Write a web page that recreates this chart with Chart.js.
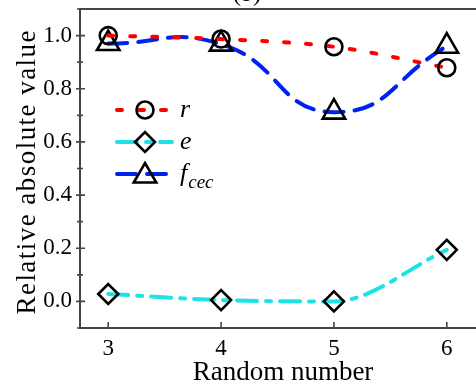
<!DOCTYPE html>
<html>
<head>
<meta charset="utf-8">
<script src="https://cdn.jsdelivr.net/npm/chart.js@4/dist/chart.umd.min.js"></script>
<style>
html,body{margin:0;padding:0;background:#fff;}
#wrap{width:476px;height:389px;}
</style>
</head>
<body>
<div id="wrap"><canvas id="c" width="476" height="389"></canvas></div>
<script>
// ---- data ----
const randomNumbers = [3, 4, 5, 6];
const rValues = [1.0, 0.987, 0.958, 0.879];
const eValues = [0.028, 0.005, 0.0, 0.194];
const fcecValues = [0.97, 0.968, 0.712, 0.96];
const xTickValues = [3, 4, 5, 6];
const yTickValues = [0.0, 0.2, 0.4, 0.6, 0.8, 1.0];
const yMinorTickValues = [-0.1, 0.1, 0.3, 0.5, 0.7, 0.9, 1.1];
const xTitle = 'Random number';
const yTitle = 'Relative absolute value';
const chartTitle = '(b)';

const SERIF = "'Liberation Serif', 'DejaVu Serif', serif";
Chart.defaults.font.family = SERIF;
Chart.defaults.font.size = 22;
Chart.defaults.color = '#000';
const RED = '#ff0000', CYAN = '#1ee2e6', BLUE = '#0022ee';
const rDash = [5, 17], eDash = [20, 9, 5, 9], fDash = [19, 11];

const pts = (ys) => randomNumbers.map((x, i) => ({x: x, y: ys[i]}));

function drawMarker(ctx, style, x, y, r) {
  ctx.save();
  ctx.setLineDash([]);
  ctx.strokeStyle = '#000';
  ctx.lineWidth = 2.6;
  ctx.beginPath();
  if (style === 'circle') {
    ctx.arc(x, y, r, 0, Math.PI * 2);
  } else if (style === 'rectRot') {
    ctx.moveTo(x - r, y); ctx.lineTo(x, y - r); ctx.lineTo(x + r, y); ctx.lineTo(x, y + r); ctx.closePath();
  } else if (style === 'triangle') {
    let a = 0;
    ctx.moveTo(x + Math.sin(a) * r, y - Math.cos(a) * r);
    a += Math.PI * 2 / 3;
    ctx.lineTo(x + Math.sin(a) * r, y - Math.cos(a) * r);
    a += Math.PI * 2 / 3;
    ctx.lineTo(x + Math.sin(a) * r, y - Math.cos(a) * r);
    ctx.closePath();
  }
  ctx.stroke();
  ctx.restore();
}

const framePlugin = {
  id: 'frame',
  beforeDatasetsDraw(chart) {
    const ctx = chart.ctx, a = chart.chartArea;
    const xs = chart.scales.x, ys = chart.scales.y;
    ctx.save();
    ctx.strokeStyle = '#444';
    ctx.lineWidth = 2;
    ctx.beginPath();
    ctx.moveTo(a.left, a.top); ctx.lineTo(a.right + 2, a.top);
    ctx.moveTo(a.left, a.top - 1); ctx.lineTo(a.left, a.bottom + 1);
    ctx.moveTo(a.left - 1, a.bottom); ctx.lineTo(a.right + 2, a.bottom);
    ctx.stroke();
    ctx.lineWidth = 1.6;
    ctx.beginPath();
    yTickValues.forEach(v => { const p = ys.getPixelForValue(v); ctx.moveTo(a.left - 4, p); ctx.lineTo(a.left + 5, p); });
    yMinorTickValues.forEach(v => { const p = ys.getPixelForValue(v); ctx.moveTo(a.left - 3, p); ctx.lineTo(a.left + 3, p); });
    xTickValues.forEach(v => { const p = xs.getPixelForValue(v); ctx.moveTo(p, a.bottom); ctx.lineTo(p, a.bottom - 6); });
    ctx.stroke();
    ctx.fillStyle = '#000';
    ctx.textBaseline = 'alphabetic';
    // title, mostly clipped at top
    ctx.font = '24px ' + SERIF;
    ctx.textAlign = 'center';
    ctx.fillText(chartTitle, 247, 1);
    // x axis title
    ctx.font = '27px ' + SERIF;
    ctx.fillText(xTitle, 283, 380);
    // y axis title (rotated, stretched to the reference length)
    ctx.save();
    ctx.translate(35, 172.5);
    ctx.rotate(-Math.PI / 2);
    ctx.font = '27px ' + SERIF;
    const natural = ctx.measureText(yTitle).width;
    const spacing = Math.max(0, (284 - natural) / (yTitle.length - 1));
    ctx.letterSpacing = spacing.toFixed(2) + 'px';
    const w = ctx.measureText(yTitle).width;
    ctx.textAlign = 'left';
    ctx.fillText(yTitle, -(w - spacing) / 2, 0);
    ctx.restore();
    ctx.restore();
  },
  afterDatasetsDraw(chart) {
    const ctx = chart.ctx;
    const entries = [
      {color: RED, dash: rDash, marker: 'circle', r: 8.5, y: 110, label: 'r', sub: ''},
      {color: CYAN, dash: eDash, marker: 'rectRot', r: 10, y: 142, label: 'e', sub: ''},
      {color: BLUE, dash: fDash, marker: 'triangle', r: 13, y: 174, label: 'f', sub: 'cec'}
    ];
    entries.forEach(en => {
      ctx.save();
      ctx.strokeStyle = en.color;
      ctx.lineWidth = 4;
      ctx.lineCap = 'round';
      ctx.setLineDash(en.dash);
      ctx.beginPath();
      ctx.moveTo(117, en.y); ctx.lineTo(172, en.y);
      ctx.stroke();
      ctx.restore();
      drawMarker(ctx, en.marker, 145, en.marker === 'triangle' ? en.y + 2 : en.y, en.r);
      ctx.save();
      ctx.fillStyle = '#000';
      ctx.font = 'italic 26px ' + SERIF;
      ctx.textBaseline = 'alphabetic';
      ctx.fillText(en.label, 180, en.y + 7);
      if (en.sub) {
        const w = ctx.measureText(en.label).width;
        ctx.font = 'italic 19px ' + SERIF;
        ctx.fillText(en.sub, 180 + w + 1, en.y + 14);
      }
      ctx.restore();
    });
  }
};

const yAxisFit = (scale) => { scale.width = 80; scale.paddingTop = 0; scale.paddingBottom = 0; };
const xAxisFit = (scale) => { scale.height = 61; scale.paddingLeft = 0; scale.paddingRight = 0; };

new Chart(document.getElementById('c'), {
  type: 'scatter',
  data: {
    datasets: [
      {label: 'r', data: pts(rValues), showLine: true, borderColor: RED, borderWidth: 4, borderDash: rDash, borderCapStyle: 'round',
       cubicInterpolationMode: 'monotone', pointStyle: 'circle', pointRadius: 8.5, pointBorderColor: '#000', pointBackgroundColor: 'rgba(0,0,0,0)', pointBorderWidth: 2.6, clip: false},
      {label: 'e', data: pts(eValues), showLine: true, borderColor: CYAN, borderWidth: 4, borderDash: eDash, borderCapStyle: 'round',
       cubicInterpolationMode: 'monotone', pointStyle: 'rectRot', pointRadius: 10, pointBorderColor: '#000', pointBackgroundColor: 'rgba(0,0,0,0)', pointBorderWidth: 2.6, clip: false},
      {label: 'fcec', data: pts(fcecValues), showLine: true, borderColor: BLUE, borderWidth: 4, borderDash: fDash, borderCapStyle: 'round',
       tension: 0.5, pointStyle: 'triangle', pointRadius: 13, pointBorderColor: '#000', pointBackgroundColor: 'rgba(0,0,0,0)', pointBorderWidth: 2.6, clip: false}
    ]
  },
  options: {
    responsive: false,
    animation: false,
    layout: {autoPadding: false, padding: {top: 9, right: 1, left: 0, bottom: 0}},
    plugins: {legend: {display: false}, tooltip: {enabled: false}, title: {display: false}},
    scales: {
      x: {
        type: 'linear', min: 2.75, max: 6.25,
        afterFit: xAxisFit,
        afterBuildTicks: (s) => { s.ticks = xTickValues.map(v => ({value: v})); },
        grid: {display: false, drawTicks: false}, border: {display: false},
        ticks: {font: {family: SERIF, size: 23}, color: '#000', padding: 7, maxRotation: 0,
                callback: (v) => String(v)},
        title: {display: false}
      },
      y: {
        type: 'linear', min: -0.1, max: 1.1,
        afterFit: yAxisFit,
        afterBuildTicks: (s) => { s.ticks = yTickValues.map(v => ({value: v})); },
        grid: {display: false, drawTicks: false}, border: {display: false},
        ticks: {font: {family: SERIF, size: 23}, color: '#000', padding: 8,
                callback: (v) => Number(v).toFixed(1)},
        title: {display: false}
      }
    }
  },
  plugins: [framePlugin]
});
</script>
</body>
</html>
